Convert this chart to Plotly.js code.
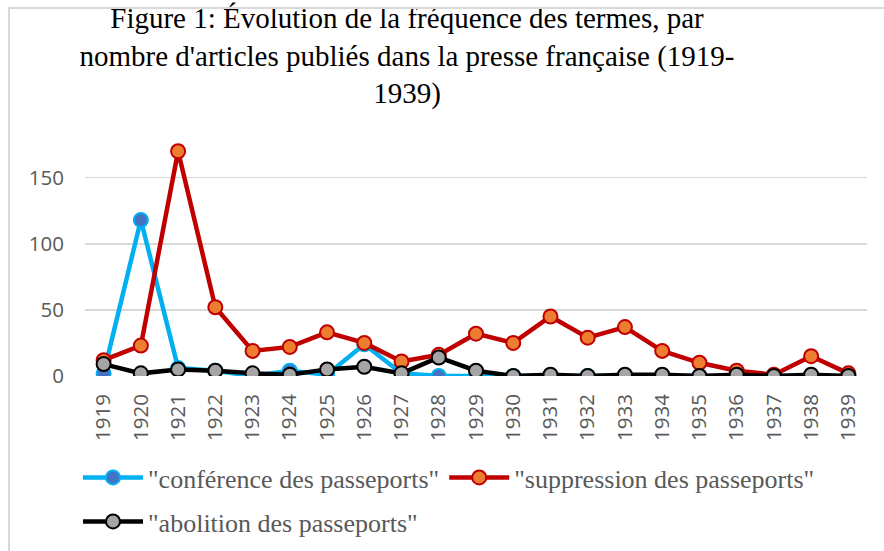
<!DOCTYPE html>
<html>
<head>
<meta charset="utf-8">
<script src="https://cdn.plot.ly/plotly-3.0.1.min.js"></script>
<style>
  html, body { margin: 0; padding: 0; background: #fff; }
  #wrap { position: relative; width: 884px; height: 551px; overflow: hidden; }
  #chart { width: 884px; height: 551px; }
  #frame { position: absolute; left: 8px; top: 7px; width: 900px; height: 600px;
           border-left: 2px solid #d9d9d9; border-top: 2px solid #d9d9d9; pointer-events: none; }
</style>
</head>
<body>
<div id="wrap">
  <div id="chart"></div>
  <div id="frame"></div>
</div>
<script>
const years = ["1919","1920","1921","1922","1923","1924","1925","1926","1927","1928","1929",
               "1930","1931","1932","1933","1934","1935","1936","1937","1938","1939"];
const conference = [2, 118, 6, 4, 0, 4, 1, 24, 2, 0, 0, 0, 0, 0, 0, 0, 0, 0, 0, 0, 0];
const suppression = [12, 23, 170, 52, 19, 22, 33, 25, 11, 16, 32, 25, 45, 29, 37, 19, 10, 4, 1, 15, 2];
const abolition = [9, 2, 5, 4, 2, 1, 5, 7, 2, 14, 4, 0, 1, 0, 1, 1, 0, 1, 0, 1, 0];
const seriesNames = ['"conférence des passeports"', '"suppression des passeports"', '"abolition des passeports"'];
const yTicks = [0, 50, 100, 150];

const serif = "Liberation Serif, DejaVu Serif, serif";
const sans = "Open Sans, Noto Sans, sans-serif";

const traces = [
  {
    x: years, y: conference, name: seriesNames[0], type: "scatter", mode: "lines+markers",
    line: { color: "#00B0F0", width: 4.5 },
    marker: { size: 14, color: "#4472C4", line: { color: "#00B0F0", width: 2 } },
    legend: "legend"
  },
  {
    x: years, y: suppression, name: seriesNames[1], type: "scatter", mode: "lines+markers",
    line: { color: "#C00000", width: 4.5 },
    marker: { size: 14, color: "#ED7D31", line: { color: "#C00000", width: 2 } },
    legend: "legend"
  },
  {
    x: years, y: abolition, name: seriesNames[2], type: "scatter", mode: "lines+markers",
    line: { color: "#000000", width: 4.5 },
    marker: { size: 14, color: "#A5A5A5", line: { color: "#000000", width: 2 } },
    legend: "legend2"
  }
];

const legendFont = { family: serif, size: 26, color: "#595959" };

const layout = {
  width: 884, height: 551,
  paper_bgcolor: "#ffffff", plot_bgcolor: "#ffffff",
  margin: { l: 85, r: 17, t: 138, b: 175, pad: 0 },
  title: {
    text: "Figure 1: Évolution de la fréquence des termes, par<br>nombre d'articles publiés dans la presse française (1919-<br>1939)",
    font: { family: serif, size: 29, color: "#000000" },
    x: 407 / 884, xanchor: "center", xref: "container",
    y: 1 - 28 / 551, yanchor: "top", yref: "container"
  },
  xaxis: {
    type: "category", range: [-0.5, 20.5], showgrid: false, zeroline: false, showline: false,
    tickangle: -90, ticks: "", ticklabelstandoff: 13,
    tickfont: { family: sans, size: 20.5, color: "#595959" },
    fixedrange: true
  },
  yaxis: {
    range: [0, 180], tickvals: yTicks, ticktext: yTicks.map(String),
    showgrid: true, gridcolor: "#d9d9d9", gridwidth: 1.5, zeroline: false, showline: false,
    ticks: "", ticklabelstandoff: 20,
    tickfont: { family: sans, size: 20.5, color: "#595959" },
    fixedrange: true
  },
  showlegend: true,
  legend: {
    orientation: "h", xref: "container", yref: "container",
    x: 78 / 884, xanchor: "left", y: 1 - 454 / 551, yanchor: "top",
    font: legendFont, itemwidth: 60, bgcolor: "rgba(0,0,0,0)", traceorder: "normal"
  },
  legend2: {
    orientation: "h", xref: "container", yref: "container",
    x: 78 / 884, xanchor: "left", y: 1 - 498 / 551, yanchor: "top",
    font: legendFont, itemwidth: 60, bgcolor: "rgba(0,0,0,0)"
  }
};

Plotly.newPlot("chart", traces, layout, { staticPlot: true, displayModeBar: false });
</script>
</body>
</html>
